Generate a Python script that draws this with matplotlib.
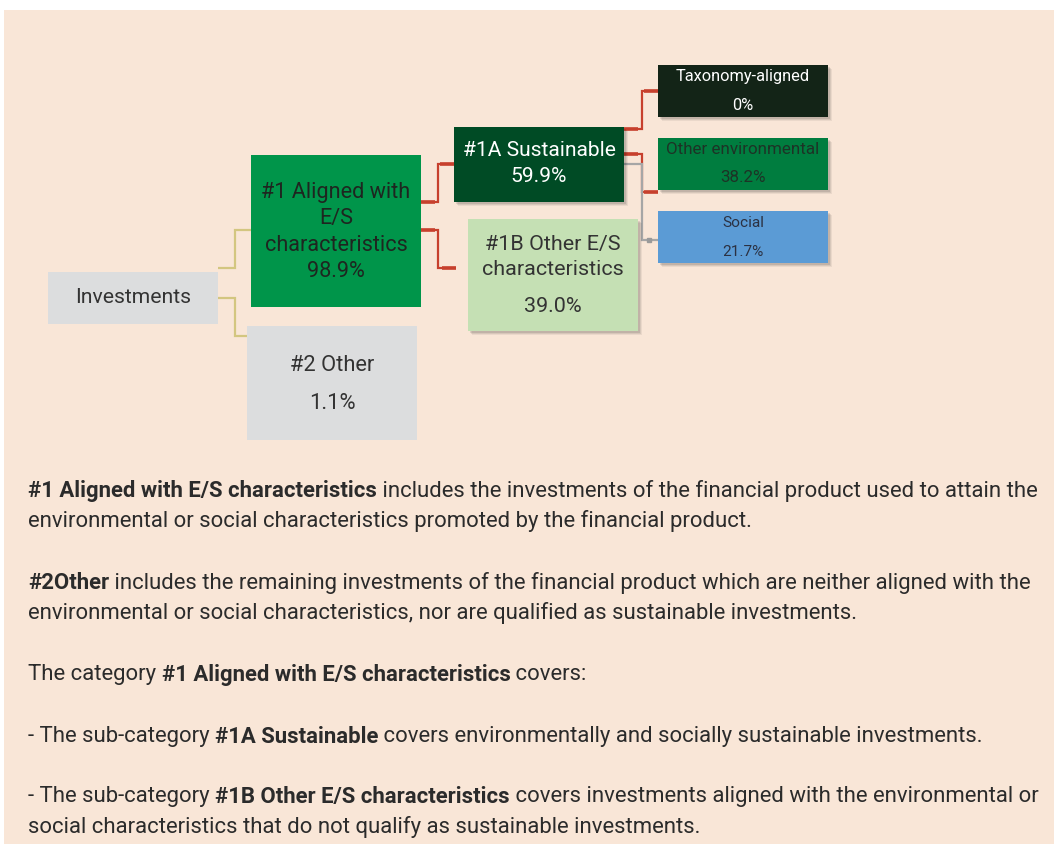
import matplotlib
matplotlib.use("Agg")
import matplotlib.pyplot as plt
from matplotlib.patches import Rectangle

# ---------------- data ----------------
node_labels = ["Investments",
               "#1 Aligned with\nE/S\ncharacteristics",
               "#2 Other",
               "#1A Sustainable",
               "#1B Other E/S\ncharacteristics",
               "Taxonomy-aligned",
               "Other environmental",
               "Social"]
node_values = [None, 98.9, 1.1, 59.9, 39.0, 0.0, 38.2, 21.7]
node_colors = ["#DCDDDE", "#00954A", "#DCDDDE", "#004B25",
               "#C5E0B4", "#132417", "#007D3F", "#5B9BD5"]
node_text_colors = ["#333333", "#1E2620", "#333333", "#FFFFFF",
                    "#333333", "#FFFFFF", "#1D3326", "#2B3142"]
edges = [(0, 1), (0, 2), (1, 3), (1, 4), (3, 5), (3, 6), (3, 7)]
edge_colors = ["#D3C680", "#D3C680", "#C7402D", "#C7402D",
               "#C7402D", "#C7402D", "#A6A6A6"]

body_paragraphs = [
    [("#1 Aligned with E/S characteristics", True),
     (" includes the investments of the financial product used to attain the", False)],
    [("environmental or social characteristics promoted by the financial product.", False)],
    [("#2Other", True),
     (" includes the remaining investments of the financial product which are neither aligned with the", False)],
    [("environmental or social characteristics, nor are qualified as sustainable investments.", False)],
    [("The category ", False), ("#1 Aligned with E/S characteristics", True), (" covers:", False)],
    [("- The sub-category ", False), ("#1A Sustainable", True),
     (" covers environmentally and socially sustainable investments.", False)],
    [("- The sub-category ", False), ("#1B Other E/S characteristics", True),
     (" covers investments aligned with the environmental or", False)],
    [("social characteristics that do not qualify as sustainable investments.", False)],
]

# ---------------- layout (pixels) ----------------
W, H = 1054, 845
boxes = [(48, 273, 170, 52), (251, 156, 170, 152), (247, 327, 170, 114),
         (454, 128, 170, 75), (468, 220, 170, 112), (658, 66, 170, 52),
         (658, 139, 170, 52), (658, 212, 170, 52)]
shadow = [False, False, False, True, True, True, True, True]
label_y = [298, 232, 366, 151, 257, 77, 150, 223]
value_y = [None, 272, 404, 177, 307, 106, 178, 252]
label_fit_width = [117, 150, 85, 154, 136, 135, 155, 42]
line_spacing_px = [0, 26.5, 0, 0, 25, 0, 0, 0]
edge_paths = [
    [(218, 269), (235, 269), (235, 231), (251, 231)],
    [(218, 299), (235, 299), (235, 337), (247, 337)],
    [(421, 203), (438, 203), (438, 165), (454, 165)],
    [(421, 231), (438, 231), (438, 269), (456, 269)],
    [(624, 130), (642, 130), (642, 92), (658, 92)],
    [(624, 155), (642, 155), (642, 193), (658, 193)],
    [(624, 165), (642, 165), (642, 241), (658, 241)],
]
body_y = [491, 521, 583, 613, 675, 737, 797, 827]
body_x = 28
body_line1_right = 1043

FONT = "Roboto"
plt.rcParams['font.family'] = [FONT, 'DejaVu Sans']

fig = plt.figure(figsize=(W / 100, H / 100), dpi=100)
fig.patch.set_facecolor("white")
ax = fig.add_axes([0, 0, 1, 1])
ax.set_xlim(0, W)
ax.set_ylim(H, 0)
ax.axis("off")
renderer = fig.canvas.get_renderer()

ax.add_patch(Rectangle((4, 11), W - 4, H - 11, facecolor="#F9E6D7",
                       edgecolor="none", zorder=0))


def text_width(s, size, weight="normal"):
    t = ax.text(0, 0, s, fontsize=size, fontweight=weight)
    w = t.get_window_extent(renderer).width
    t.remove()
    return w


# connectors
for (a, b), col, pts in zip(edges, edge_colors, edge_paths):
    xs = [p[0] for p in pts]
    ys = [p[1] for p in pts]
    ax.plot(xs, ys, color=col, lw=1.6, solid_capstyle="butt",
            solid_joinstyle="miter", zorder=1)
    if col == "#C7402D":
        ax.plot([xs[-1] - 14, xs[-1]], [ys[-1], ys[-1]], color=col, lw=2.6,
                solid_capstyle="butt", zorder=1)
        ax.plot([xs[0], xs[0] + 14], [ys[0], ys[0]], color=col, lw=2.6,
                solid_capstyle="butt", zorder=1)
    elif col == "#A6A6A6":
        ax.plot([xs[-1] - 9], [ys[-1]], marker="s", ms=3, color="#9A9A9A", zorder=1)

# boxes
for i, (x, y, w, h) in enumerate(boxes):
    if shadow[i]:
        for k, al in [(4, 0.06), (3, 0.08), (2, 0.10)]:
            ax.add_patch(Rectangle((x + k, y + k), w, h, facecolor="black",
                                   alpha=al, edgecolor="none", zorder=2))
    ax.add_patch(Rectangle((x, y), w, h, facecolor=node_colors[i],
                           edgecolor="none", zorder=3))
    first = node_labels[i].split("\n")[0]
    size = 14 * label_fit_width[i] / text_width(first, 14)
    lines = node_labels[i].split("\n")
    n = len(lines)
    if value_y[i] is not None and i == 1:
        vals = lines + ["%.1f%%" % node_values[i]]
        n4 = len(vals)
        for k, ln in enumerate(vals):
            yy = label_y[i] + (k - (n4 - 1) / 2) * line_spacing_px[i]
            ax.text(x + w / 2, yy, ln, ha="center", va="center", fontsize=size,
                    color=node_text_colors[i], zorder=4)
        continue
    for k, ln in enumerate(lines):
        yy = label_y[i] + (k - (n - 1) / 2) * line_spacing_px[i]
        ax.text(x + w / 2, yy, ln, ha="center", va="center", fontsize=size,
                color=node_text_colors[i], zorder=4)
    v = node_values[i]
    if v is not None:
        vs = "0%" if v == 0 else "%.1f%%" % v
        ax.text(x + w / 2, value_y[i], vs, ha="center", va="center",
                fontsize=size, color=node_text_colors[i], zorder=4)


def seg_width(s, size, bold):
    wt = "bold" if bold else "normal"
    return text_width("|" + s + "|", size, wt) - text_width("||", size, wt)


def line_width(segs, size):
    return sum(seg_width(s, size, b) for s, b in segs)


base = 14
size_body = base * (body_line1_right - body_x) / line_width(body_paragraphs[0], base)
for segs, yy in zip(body_paragraphs, body_y):
    xx = body_x
    for s, b in segs:
        ax.text(xx, yy, s, ha="left", va="center", fontsize=size_body,
                fontweight="bold" if b else "normal", color="#2B2B2B", zorder=4)
        xx += seg_width(s, size_body, b)

fig.savefig("out.png", dpi=100, facecolor=fig.get_facecolor())
